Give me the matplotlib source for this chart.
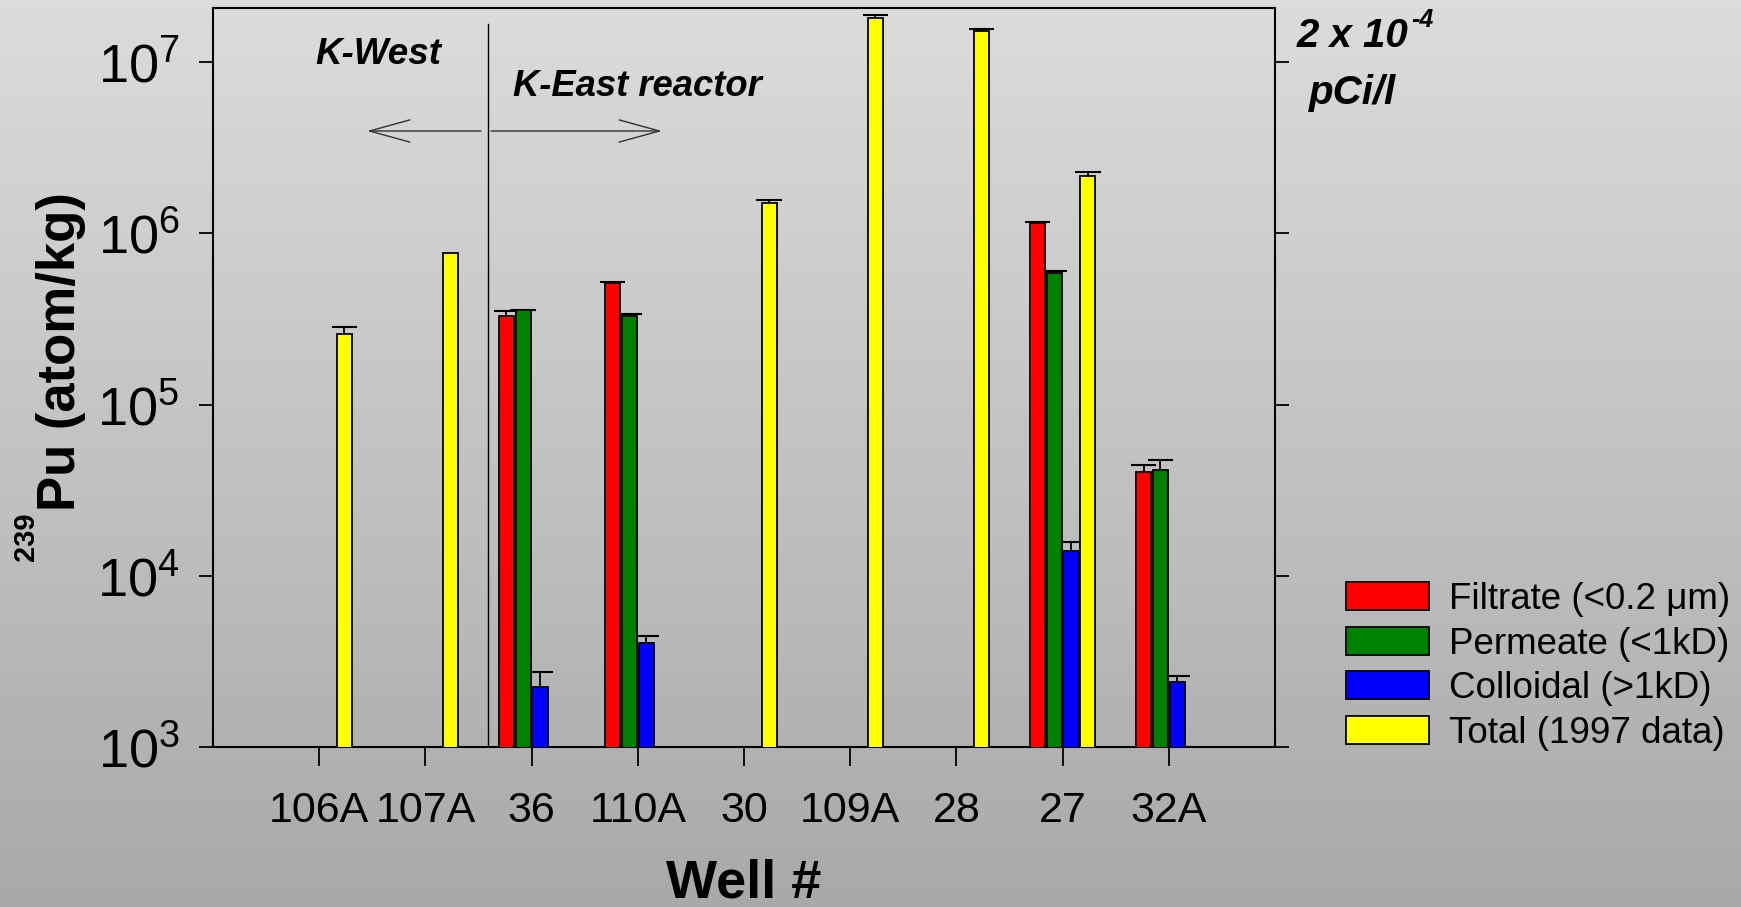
import numpy as np
import matplotlib
matplotlib.use("Agg")
import matplotlib.pyplot as plt

# -------------------- данные --------------------
wells = ["106A", "107A", "36", "110A", "30", "109A", "28", "27", "32A"]
nan = np.nan

filtrate = [nan, nan, 3.28e5, 5.1e5, nan, nan, nan, 1.15e6, 4.04e4]
filtrate_err = [nan, nan, 0.23e5, 0.1e5, nan, nan, nan, 0.02e6, 0.42e4]

permeate = [nan, nan, 3.56e5, 3.31e5, nan, nan, nan, 5.9e5, 4.12e4]
permeate_err = [nan, nan, 0.03e5, 0.06e5, nan, nan, nan, 0.1e5, 0.65e4]

colloidal = [nan, nan, 2.25e3, 4.07e3, nan, nan, nan, 1.40e4, 2.40e3]
colloidal_err = [nan, nan, 0.51e3, 0.39e3, nan, nan, nan, 0.18e4, 0.2e3]

total = [2.6e5, 7.64e5, nan, nan, 1.51e6, 1.82e7, 1.51e7, 2.16e6, nan]
total_err = [0.23e5, nan, nan, nan, 0.06e6, 0.07e7, 0.05e7, 0.12e6, nan]

series = [
    ("Filtrate (<0.2 \u03bcm)", filtrate, filtrate_err, "#ff0000"),
    ("Permeate (<1kD)", permeate, permeate_err, "#008000"),
    ("Colloidal (>1kD)", colloidal, colloidal_err, "#0000ff"),
    ("Total (1997 data)", total, total_err, "#ffff00"),
]

# -------------------- оформление --------------------
plt.rcParams["font.family"] = ["Liberation Sans", "DejaVu Sans"]
plt.rcParams["mathtext.fontset"] = "custom"
plt.rcParams["mathtext.rm"] = "Liberation Sans"
plt.rcParams["mathtext.it"] = "Liberation Sans:italic"
plt.rcParams["mathtext.bf"] = "Liberation Sans:bold"
plt.rcParams["mathtext.default"] = "regular"

W, H = 1741, 907
fig = plt.figure(figsize=(W / 100, H / 100), dpi=100)

# серый градиентный фон
bg = fig.add_axes([0, 0, 1, 1], zorder=-10)
grad = np.linspace(0.86, 0.66, 256).reshape(-1, 1)
bg.imshow(grad, aspect="auto", cmap="gray", vmin=0, vmax=1, extent=[0, 1, 0, 1])
bg.axis("off")

ax = fig.add_axes([213 / W, 1 - 747 / H, (1275 - 213) / W, (747 - 8) / H])
ax.set_facecolor("none")
ax.set_yscale("log")

x = np.arange(len(wells))
slot = 0.158
bw = 0.142
cap = 0.12  # полуширина "шляпки" погрешности, в единицах x
for i, (label, vals, errs, color) in enumerate(series):
    xpos = x + (i - 1.5) * slot
    vals = np.array(vals, dtype=float)
    errs = np.array(errs, dtype=float)
    ax.bar(xpos, vals, width=bw, color=color, edgecolor="black",
           linewidth=1.3, label=label, zorder=3)
    # погрешность только вверх
    ok = ~np.isnan(errs)
    top = vals[ok] + errs[ok]
    ax.vlines(xpos[ok], vals[ok], top, color="black", linewidth=1.3, zorder=2)
    ax.hlines(top, xpos[ok] - cap, xpos[ok] + cap, color="black",
              linewidth=1.5, zorder=2)

ax.set_xlim(-1, 9)
ax.set_ylim(1e3, 10 ** 7.316)
ax.set_xticks(x)
ax.set_xticklabels(wells)
ax.set_yticks([1e3, 1e4, 1e5, 1e6, 1e7])
ax.minorticks_off()
ax.tick_params(axis="x", direction="out", length=14, width=1.3,
               labelsize=31, pad=18)
ax.tick_params(axis="y", direction="out", length=10, width=1.3,
               labelsize=39, pad=14, right=True)
for s in ax.spines.values():
    s.set_linewidth(1.5)

# разделитель K-West / K-East и стрелки
ax.axvline(1.585, ymin=0, ymax=0.978, color="black", linewidth=1, zorder=1)
arrow = dict(arrowstyle="->,head_length=2.9,head_width=0.8",
             color="#333333", lw=1, shrinkA=0, shrinkB=0)
ax.annotate("", xy=(367, H - 131), xytext=(481, H - 131),
            xycoords="figure pixels", textcoords="figure pixels",
            arrowprops=arrow)
ax.annotate("", xy=(662, H - 131), xytext=(491, H - 131),
            xycoords="figure pixels", textcoords="figure pixels",
            arrowprops=arrow)

fig.text(378 / W, 1 - 55 / H, "K-West", ha="center", va="center",
         fontsize=26.5, fontweight="bold", fontstyle="italic")
fig.text(637 / W, 1 - 86 / H, "K-East reactor", ha="center", va="center",
         fontsize=26.2, fontweight="bold", fontstyle="italic")

# подпись справа
fig.text(1297 / W, 1 - 47 / H, "2 x 10", ha="left", va="baseline",
         fontsize=29, fontweight="bold", fontstyle="italic")
fig.text(1411 / W, 1 - 27 / H, "-4", ha="left", va="baseline",
         fontsize=18, fontweight="bold", fontstyle="italic")
fig.text(1309 / W, 1 - 104 / H, "pCi/l", ha="left", va="baseline",
         fontsize=29, fontweight="bold", fontstyle="italic")

# подписи осей
fig.text(75 / W, 1 - 511 / H, "Pu (atom/kg)", rotation=90,
         rotation_mode="anchor", ha="left", va="baseline",
         fontsize=38, fontweight="bold")
fig.text(34 / W, 1 - 561 / H, "239", rotation=90,
         rotation_mode="anchor", ha="left", va="baseline",
         fontsize=21, fontweight="bold")
fig.text(744 / W, 1 - 897 / H, "Well #", ha="center", va="baseline",
         fontsize=39, fontweight="bold")

fig.legend(loc="upper left", bbox_to_anchor=(1346 / W, 1 - 582 / H),
           frameon=False, fontsize=26.5, handlelength=2.26, handleheight=0.79,
           handletextpad=0.55, labelspacing=0.26, borderpad=0,
           borderaxespad=0)

fig.savefig("out.png", dpi=100)
